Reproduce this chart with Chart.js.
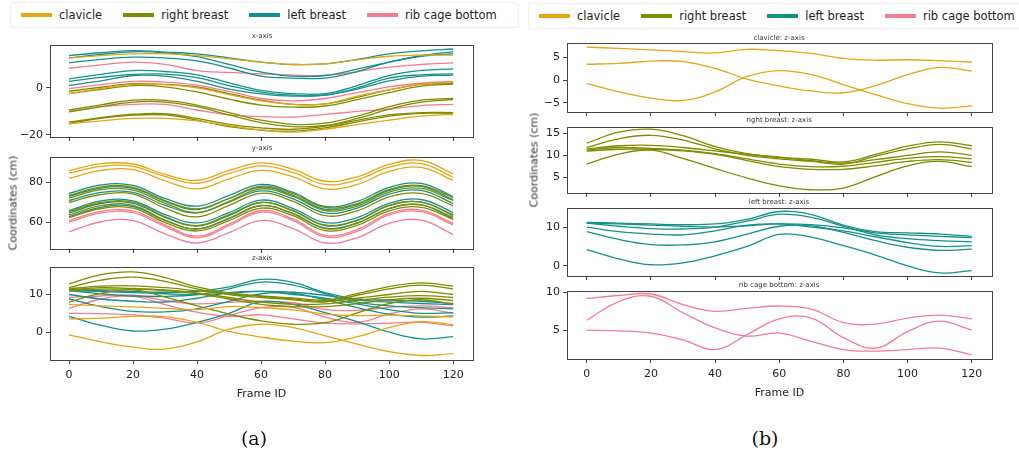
<!DOCTYPE html>
<html>
<head>
<meta charset="utf-8">
<script src="https://cdn.jsdelivr.net/npm/chart.js@4.4.0/dist/chart.umd.min.js"></script>
<style>
  body { margin: 0; background: #fff; width: 1019px; height: 457px; position: relative; overflow: hidden; font-family: 'DejaVu Sans', sans-serif; }
  canvas { position: absolute; }
  .txt { position: absolute; white-space: nowrap; color: #222; transform: translate(-50%, -50%); }
  .subtitle { font-size: 7px; color: #333; }
  .ylab { font-size: 11px; color: #333; transform: translate(-50%, -50%) rotate(-90deg); }
  .cap { font-family: 'DejaVu Serif', serif; font-size: 19px; color: #111; }
  .legend { position: absolute; display: flex; align-items: center; font-size: 11.5px; color: #222; white-space: nowrap; height: 24px; padding-left: 10px; border: 1px solid #eee; border-radius: 3px; overflow: hidden; }
  .legend .sw { width: 31px; height: 3.5px; margin-right: 7px; }
  .legend .lab { margin-right: 21px; }
</style>
</head>
<body>
<script>
// frame ids where the marker positions were sampled
const frames = [0, 10, 20, 30, 40, 50, 60, 70, 80, 90, 100, 110, 120];
const partNames = ['clavicle', 'right breast', 'left breast', 'rib cage bottom'];

// x coordinate (cm) per marker
const clavicleX = [
  [12.7, 13.8, 14.5, 14.5, 13.8, 12.4, 11.0, 10.0, 10.3, 12.0, 13.5, 14.0, 14.0],
  [-2.4, -0.2, 1.5, 1.4, 0.0, -2.8, -5.5, -7.0, -6.8, -3.5, -0.8, 1.6, 2.4],
  [-15.3, -14.0, -13.0, -13.0, -14.0, -16.0, -17.9, -18.8, -17.6, -15.6, -13.7, -12.0, -11.2]
];
const rightBreastX = [
  [-1.4, 0.3, 1.8, 1.5, 0.4, -2.4, -5.2, -7.0, -6.8, -4.0, -0.8, 1.5, 2.0],
  [-2.4, -0.6, 1.0, 0.5, -1.7, -4.8, -7.3, -8.2, -7.7, -5.0, -2.0, 0.8, 1.6],
  [-9.4, -7.2, -5.2, -5.3, -7.3, -10.5, -13.7, -15.5, -15.0, -12.0, -8.0, -5.2, -4.5],
  [-10.2, -8.0, -6.0, -6.0, -8.0, -11.5, -14.8, -16.5, -16.0, -13.0, -9.0, -6.0, -5.0],
  [-15.1, -13.0, -11.6, -11.5, -13.7, -16.5, -18.0, -18.4, -17.0, -14.5, -12.0, -10.8, -10.8],
  [-14.5, -12.6, -11.2, -11.0, -13.0, -15.5, -17.0, -17.6, -16.3, -13.8, -11.5, -10.5, -10.5]
];
const leftBreastX = [
  [13.8, 15.0, 15.9, 15.3, 14.5, 12.8, 11.0, 10.0, 10.3, 12.2, 14.5, 15.8, 16.6],
  [12.8, 14.3, 15.4, 15.0, 13.3, 10.0, 6.8, 5.0, 5.3, 8.0, 11.0, 13.8, 15.4],
  [10.7, 12.2, 13.1, 12.8, 11.5, 8.5, 5.0, 4.2, 4.2, 7.0, 11.0, 13.5, 14.5],
  [3.9, 5.8, 7.4, 7.0, 5.6, 2.2, -1.0, -2.4, -2.4, 1.0, 5.3, 7.5, 8.1],
  [2.8, 4.5, 5.8, 5.9, 4.4, 1.0, -1.8, -3.1, -3.1, 0.0, 4.2, 5.6, 6.0],
  [1.1, 3.0, 5.3, 5.0, 2.8, -0.5, -2.5, -3.5, -3.0, -0.5, 3.0, 5.0, 5.5]
];
const ribCageX = [
  [8.4, 9.8, 11.0, 10.0, 7.4, 6.6, 6.0, 5.5, 5.3, 7.0, 8.9, 10.0, 10.7],
  [-0.3, 1.4, 2.8, 2.5, 1.2, -1.5, -4.5, -5.5, -4.5, -2.0, 0.5, 2.0, 2.8],
  [-10.0, -8.0, -7.0, -7.0, -9.4, -11.5, -12.2, -12.4, -11.3, -10.0, -9.0, -7.5, -7.0]
];

// y coordinate (cm) per marker
const clavicleY = [
  [85.9, 89.4, 89.2, 84.0, 81.0, 86.0, 89.8, 86.5, 80.6, 82.8, 89.0, 91.0, 84.3],
  [84.6, 88.0, 88.0, 83.0, 79.6, 84.5, 88.3, 85.0, 79.0, 81.3, 87.6, 89.4, 82.6],
  [82.0, 86.0, 86.4, 80.8, 76.8, 81.8, 86.0, 82.8, 76.8, 79.0, 85.5, 87.5, 81.0]
];
const rightBreastY = [
  [73.5, 77.8, 77.6, 71.0, 66.8, 72.0, 78.2, 74.4, 67.5, 69.5, 76.5, 78.4, 72.5],
  [72.2, 76.4, 76.2, 69.6, 65.0, 70.6, 76.8, 73.0, 66.0, 68.2, 75.2, 77.0, 71.0],
  [70.0, 74.0, 74.2, 67.2, 62.8, 68.6, 74.6, 70.6, 63.4, 65.8, 72.8, 74.5, 68.4],
  [65.5, 70.0, 70.2, 63.0, 58.5, 64.0, 70.0, 66.0, 58.8, 61.2, 68.6, 70.2, 64.0],
  [63.8, 68.4, 68.6, 61.2, 56.8, 62.2, 68.4, 64.5, 57.0, 59.6, 67.0, 68.8, 62.6],
  [62.5, 67.0, 67.2, 60.0, 55.8, 61.0, 67.2, 63.4, 56.0, 58.6, 65.8, 67.6, 61.6]
];
const leftBreastY = [
  [74.5, 78.8, 78.5, 72.0, 68.2, 73.5, 79.0, 75.0, 68.0, 70.5, 77.5, 79.5, 73.0],
  [73.0, 77.2, 77.0, 70.6, 66.5, 72.0, 77.6, 73.5, 66.6, 69.0, 76.0, 78.0, 71.4],
  [71.0, 75.0, 75.0, 68.6, 64.8, 70.2, 75.8, 71.8, 64.8, 67.2, 74.2, 76.0, 69.5],
  [66.0, 70.8, 70.8, 64.0, 59.8, 65.0, 71.2, 67.0, 60.0, 62.5, 69.6, 71.5, 65.0],
  [64.8, 69.5, 69.6, 62.6, 58.2, 63.5, 70.0, 65.8, 58.5, 61.0, 68.4, 70.2, 63.5],
  [63.0, 67.6, 68.0, 61.0, 56.8, 62.0, 68.5, 64.4, 57.2, 59.8, 67.0, 68.8, 62.0]
];
const ribCageY = [
  [61.0, 65.6, 65.8, 58.8, 53.2, 59.2, 66.0, 61.8, 53.6, 56.5, 64.6, 66.2, 59.5],
  [55.4, 60.4, 61.0, 54.4, 49.8, 55.0, 61.0, 57.0, 49.8, 52.4, 59.6, 61.2, 54.0],
  [60.2, 64.8, 65.0, 58.0, 52.4, 58.4, 65.2, 61.0, 52.8, 55.6, 63.8, 65.4, 58.8]
];

// z coordinate (cm) per marker
const clavicleZ = [
  [7.3, 7.0, 6.7, 6.3, 6.0, 6.8, 6.5, 5.9, 4.8, 4.4, 4.5, 4.3, 4.0],
  [3.5, 3.7, 4.2, 4.1, 2.6, 0.2, -1.3, -2.4, -2.8, -1.2, 1.2, 2.8, 2.0],
  [-0.7, -2.6, -4.0, -4.5, -2.6, 0.8, 2.1, 1.2, -1.0, -3.2, -5.2, -6.2, -5.7]
];
const rightBreastZ = [
  [12.8, 15.3, 16.0, 14.5, 12.0, 10.4, 9.6, 9.1, 8.5, 10.2, 12.1, 13.1, 12.2],
  [11.8, 13.8, 14.6, 13.5, 11.5, 10.0, 9.2, 8.6, 8.0, 9.8, 11.5, 12.5, 11.5],
  [11.5, 12.2, 12.3, 11.8, 11.0, 10.2, 9.5, 8.8, 8.2, 9.0, 10.0, 10.8, 10.0],
  [11.2, 11.8, 11.6, 11.2, 10.4, 9.2, 8.0, 7.4, 7.5, 8.4, 9.3, 9.7, 9.2],
  [11.0, 11.4, 11.4, 11.0, 10.2, 8.8, 7.4, 6.8, 6.8, 7.6, 8.6, 9.0, 8.4],
  [8.0, 10.3, 11.2, 9.3, 7.0, 4.8, 3.0, 2.1, 2.5, 5.1, 7.6, 8.6, 7.4]
];
const leftBreastZ = [
  [4.2, 1.8, 0.3, 0.8, 2.6, 5.0, 8.1, 7.4, 5.2, 2.8, 0.0, -1.8, -1.2],
  [8.8, 6.8, 5.5, 5.4, 6.2, 8.2, 10.2, 10.3, 8.6, 6.5, 4.8, 4.0, 4.3],
  [10.0, 8.8, 8.2, 8.0, 9.0, 10.5, 10.8, 10.0, 9.0, 7.5, 6.0, 5.0, 5.2],
  [11.0, 10.2, 9.6, 9.5, 10.0, 11.5, 13.3, 12.5, 10.2, 8.0, 7.0, 6.5, 6.2],
  [11.2, 11.0, 10.8, 10.6, 10.8, 12.0, 14.0, 13.2, 10.5, 8.8, 8.5, 8.2, 7.6],
  [11.0, 10.8, 10.5, 10.2, 10.0, 10.3, 10.8, 10.6, 9.8, 8.5, 8.0, 7.6, 7.3]
];
const ribCageZ = [
  [9.2, 9.6, 9.8, 8.4, 7.5, 7.9, 8.2, 7.8, 6.0, 5.8, 6.6, 7.0, 6.5],
  [6.3, 8.8, 9.5, 7.3, 5.3, 4.2, 4.6, 3.5, 2.4, 2.2, 2.4, 2.6, 1.7],
  [5.0, 4.9, 4.6, 3.7, 2.4, 4.4, 6.5, 6.6, 4.0, 2.6, 4.8, 6.2, 5.0]
];

const frameTicks = [0, 20, 40, 60, 80, 100, 120];

const colors = ['#e2a617', '#7f8b00', '#16908a', '#f47c90'];
const FONT = 'DejaVu Sans';
const Y_AXIS_W = 45;
const TOP_PAD = 8;

// box around every subplot, like a matplotlib axes frame
const framePlugin = {
  id: 'frame',
  afterDraw(chart) {
    const { ctx, chartArea: a } = chart;
    ctx.save();
    ctx.strokeStyle = '#444';
    ctx.lineWidth = 1;
    ctx.strokeRect(Math.round(a.left) + 0.5, Math.round(a.top) + 0.5,
      Math.round(a.right - a.left), Math.round(a.bottom - a.top));
    ctx.restore();
  }
};

function fmt(v) {
  return String(v).replace('-', '\u2212');
}

function addText(text, x, y, cls) {
  const d = document.createElement('div');
  d.className = 'txt ' + cls;
  d.textContent = text;
  d.style.left = x + 'px';
  d.style.top = y + 'px';
  document.body.appendChild(d);
}

function makePlot(p) {
  const xh = p.showX ? 41 : 6;
  const canvas = document.createElement('canvas');
  canvas.width = p.width + Y_AXIS_W + 4;
  canvas.height = p.height + TOP_PAD + xh;
  canvas.style.left = (p.left - Y_AXIS_W) + 'px';
  canvas.style.top = (p.top - TOP_PAD) + 'px';
  document.body.appendChild(canvas);

  const datasets = [];
  p.groups.forEach(g => {
    g.lines.forEach(vals => {
      datasets.push({
        data: frames.map((f, i) => ({ x: f, y: vals[i] })),
        borderColor: colors[g.part],
        borderWidth: 1.3,
        pointRadius: 0,
        tension: 0.4,
        fill: false
      });
    });
  });

  new Chart(canvas, {
    type: 'line',
    data: { datasets },
    plugins: [framePlugin],
    options: {
      responsive: false,
      animation: false,
      layout: { padding: { top: TOP_PAD, right: 4, left: 0, bottom: 0 } },
      plugins: { legend: { display: false }, tooltip: { enabled: false } },
      scales: {
        x: {
          type: 'linear',
          min: p.xMin,
          max: p.xMax,
          afterBuildTicks: axis => { axis.ticks = frameTicks.map(v => ({ value: v })); },
          // fixed axis size, no extra room for half labels
          afterFit: axis => { axis.height = xh; axis.paddingLeft = 0; axis.paddingRight = 0; },
          border: { display: false },
          grid: { drawOnChartArea: false, drawTicks: true, tickLength: 4, color: '#444' },
          ticks: { display: p.showX, padding: 5, color: '#222', font: { family: FONT, size: 11 }, callback: v => fmt(v) },
          title: { display: p.showX, text: 'Frame ID', color: '#222', font: { family: FONT, size: 11 }, padding: { top: 0, bottom: 0 } }
        },
        y: {
          type: 'linear',
          min: p.yMin,
          max: p.yMax,
          afterBuildTicks: axis => { axis.ticks = p.yTicks.map(v => ({ value: v })); },
          afterFit: axis => { axis.width = Y_AXIS_W; axis.paddingTop = 0; axis.paddingBottom = 0; },
          border: { display: false },
          grid: { drawOnChartArea: false, drawTicks: true, tickLength: 4, color: '#444' },
          ticks: { padding: 3, color: '#222', font: { family: FONT, size: 11 }, callback: v => fmt(v) }
        }
      }
    }
  });
}

function addLegend(x, y) {
  const box = document.createElement('div');
  box.className = 'legend';
  box.style.left = x + 'px';
  box.style.top = y + 'px';
  partNames.forEach((name, i) => {
    const sw = document.createElement('span');
    sw.className = 'sw';
    sw.style.background = colors[i];
    const lab = document.createElement('span');
    lab.className = 'lab';
    lab.textContent = name;
    box.appendChild(sw);
    box.appendChild(lab);
  });
  document.body.appendChild(box);
}

// ---- (a): every marker, one subplot per coordinate ----
const aX = { left: 50, width: 423, xMin: -5.94, xMax: 126.2 };
makePlot({ ...aX, top: 45, height: 92, yMin: -20.9, yMax: 18.3, yTicks: [-20, 0], showX: false,
  groups: [{ part: 0, lines: clavicleX }, { part: 1, lines: rightBreastX }, { part: 2, lines: leftBreastX }, { part: 3, lines: ribCageX }] });
makePlot({ ...aX, top: 157, height: 92, yMin: 46.8, yMax: 92.7, yTicks: [60, 80], showX: false,
  groups: [{ part: 0, lines: clavicleY }, { part: 1, lines: rightBreastY }, { part: 2, lines: leftBreastY }, { part: 3, lines: ribCageY }] });
makePlot({ ...aX, top: 267, height: 93, yMin: -7.4, yMax: 17.3, yTicks: [0, 10], showX: true,
  groups: [{ part: 0, lines: clavicleZ }, { part: 1, lines: rightBreastZ }, { part: 2, lines: leftBreastZ }, { part: 3, lines: ribCageZ }] });
addText('x-axis', 262, 36, 'subtitle');
addText('y-axis', 262, 148, 'subtitle');
addText('z-axis', 262, 258, 'subtitle');
addText('Coordinates (cm)', 13, 203, 'ylab');
addLegend(10, 2);
addText('(a)', 254, 438, 'cap');

// ---- (b): z coordinate, one subplot per body part ----
const bX = { left: 567, width: 425, xMin: -6.14, xMax: 126.3 };
makePlot({ ...bX, top: 43, height: 69, yMin: -7.05, yMax: 8.2, yTicks: [-5, 0, 5], showX: false,
  groups: [{ part: 0, lines: clavicleZ }] });
makePlot({ ...bX, top: 127, height: 66, yMin: 1.36, yMax: 16.5, yTicks: [5, 10, 15], showX: false,
  groups: [{ part: 1, lines: rightBreastZ }] });
makePlot({ ...bX, top: 208, height: 68, yMin: -2.6, yMax: 14.9, yTicks: [0, 10], showX: false,
  groups: [{ part: 2, lines: leftBreastZ }] });
makePlot({ ...bX, top: 291, height: 68, yMin: 1.15, yMax: 10.2, yTicks: [5, 10], showX: true,
  groups: [{ part: 3, lines: ribCageZ }] });
addText('clavicle: z-axis', 779, 38, 'subtitle');
addText('right breast: z-axis', 779, 120, 'subtitle');
addText('left breast: z-axis', 779, 202, 'subtitle');
addText('rib cage bottom: z-axis', 779, 285, 'subtitle');
addText('Coordinates (cm)', 534, 160, 'ylab');
addLegend(528, 3);
addText('(b)', 765, 438, 'cap');
</script>
</body>
</html>
